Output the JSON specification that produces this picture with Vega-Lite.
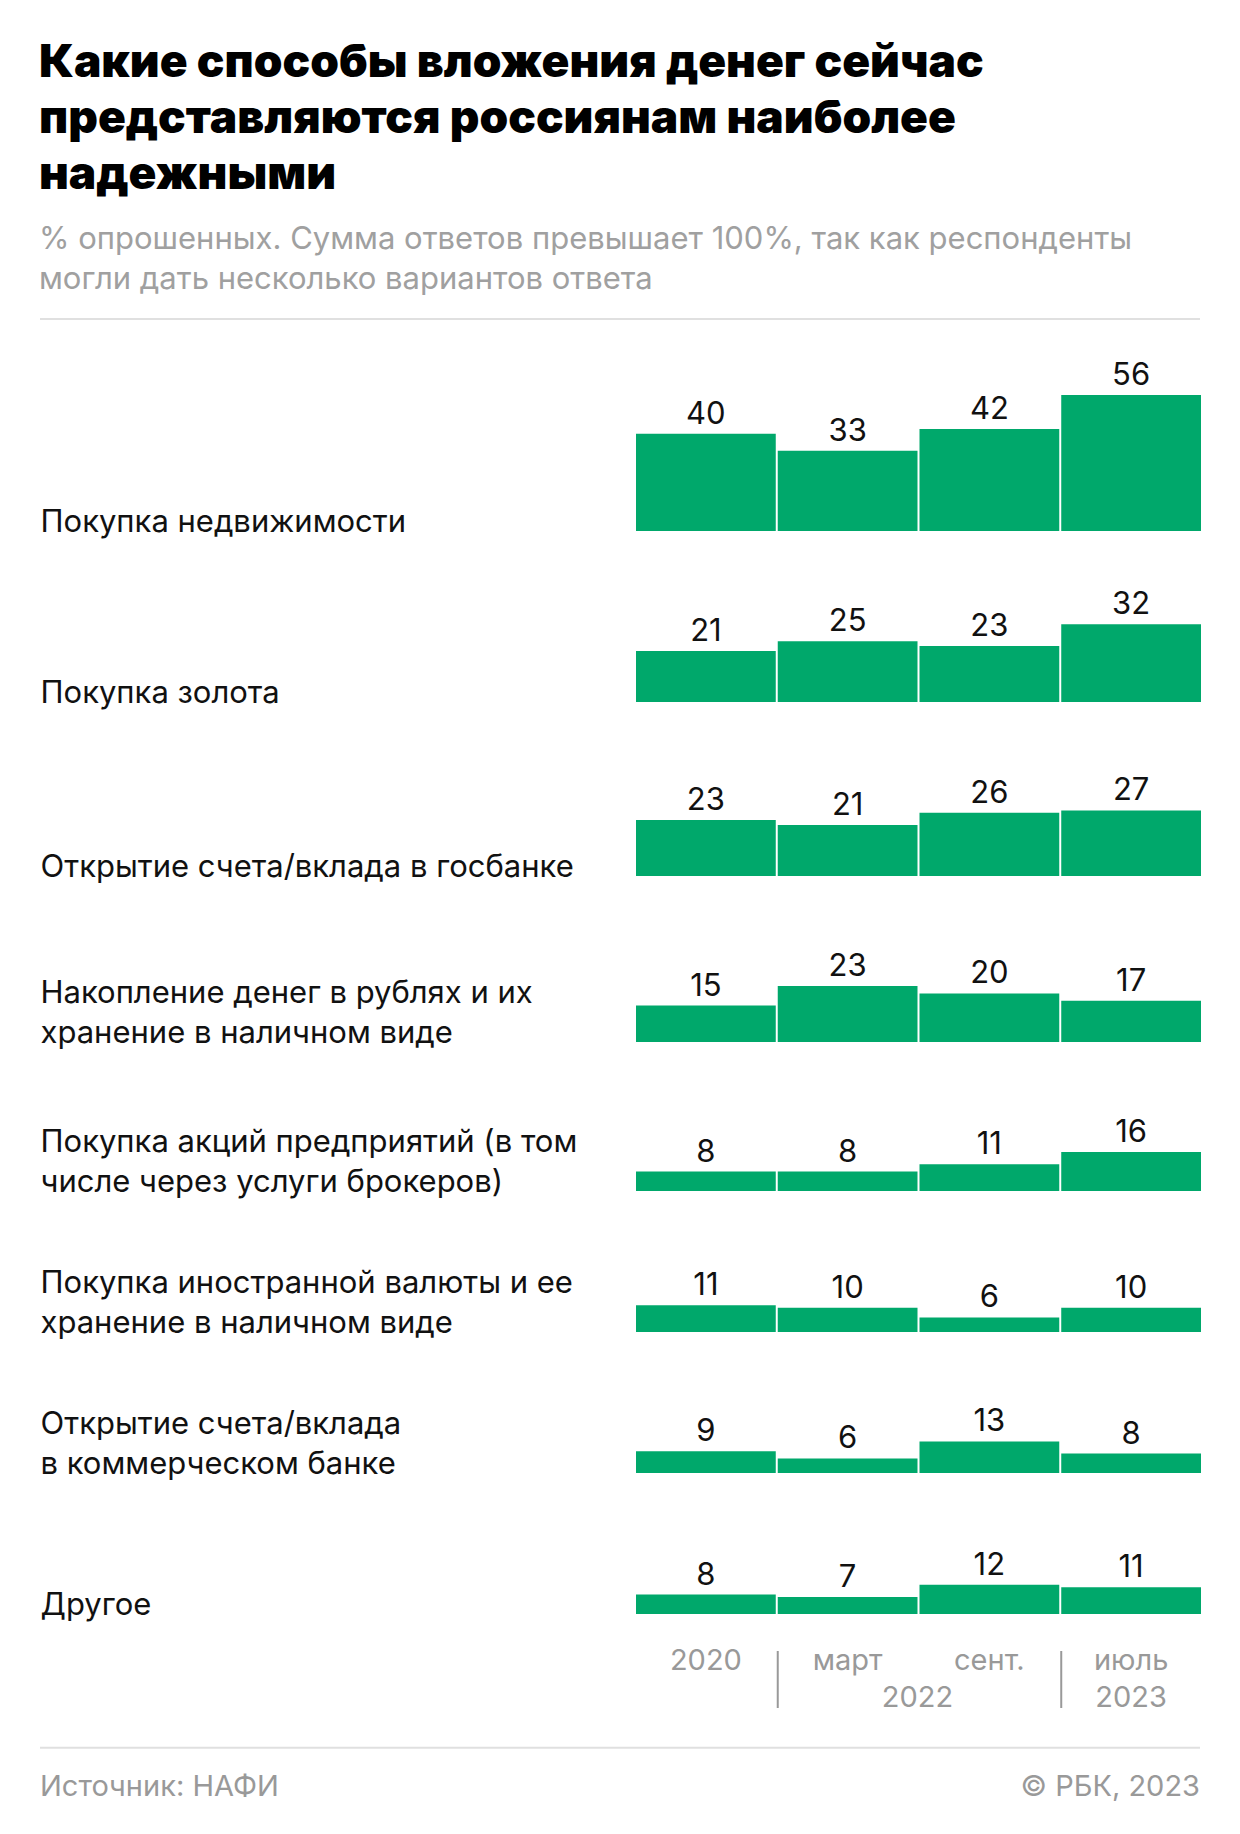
{
  "$schema": "https://vega.github.io/schema/vega-lite/v6.json",
  "background": "white",
  "padding": {"left": 39, "right": 41, "top": 40, "bottom": 0},
  "bounds": "flush",
  "title": {
    "text": ["Какие способы вложения денег сейчас", "представляются россиянам наиболее", "надежными"],
    "subtitle": ["% опрошенных. Сумма ответов превышает 100%, так как респонденты", "могли дать несколько вариантов ответа"],
    "anchor": "start",
    "font": "Inter",
    "fontSize": 46,
    "fontWeight": 900,
    "lineHeight": 56,
    "color": "#000000",
    "subtitleFont": "Inter",
    "subtitleFontSize": 31,
    "subtitleColor": "#a0a0a0",
    "subtitleLineHeight": 40,
    "subtitlePadding": 26,
    "offset": 22
  },
  "config": {
    "view": {"stroke": null},
    "concat": {"spacing": 0},
    "text": {"font": "Inter"},
    "axis": {"titleFont": "Inter", "labelFont": "Inter"}
  },
  "data": {
    "values": [
      {"category": "Покупка недвижимости", "period": "2020", "value": 40},
      {"category": "Покупка недвижимости", "period": "март 2022", "value": 33},
      {"category": "Покупка недвижимости", "period": "сент. 2022", "value": 42},
      {"category": "Покупка недвижимости", "period": "июль 2023", "value": 56},
      {"category": "Покупка золота", "period": "2020", "value": 21},
      {"category": "Покупка золота", "period": "март 2022", "value": 25},
      {"category": "Покупка золота", "period": "сент. 2022", "value": 23},
      {"category": "Покупка золота", "period": "июль 2023", "value": 32},
      {"category": "Открытие счета/вклада в госбанке", "period": "2020", "value": 23},
      {"category": "Открытие счета/вклада в госбанке", "period": "март 2022", "value": 21},
      {"category": "Открытие счета/вклада в госбанке", "period": "сент. 2022", "value": 26},
      {"category": "Открытие счета/вклада в госбанке", "period": "июль 2023", "value": 27},
      {"category": "Накопление денег в рублях", "period": "2020", "value": 15},
      {"category": "Накопление денег в рублях", "period": "март 2022", "value": 23},
      {"category": "Накопление денег в рублях", "period": "сент. 2022", "value": 20},
      {"category": "Накопление денег в рублях", "period": "июль 2023", "value": 17},
      {"category": "Покупка акций", "period": "2020", "value": 8},
      {"category": "Покупка акций", "period": "март 2022", "value": 8},
      {"category": "Покупка акций", "period": "сент. 2022", "value": 11},
      {"category": "Покупка акций", "period": "июль 2023", "value": 16},
      {"category": "Покупка иностранной валюты", "period": "2020", "value": 11},
      {"category": "Покупка иностранной валюты", "period": "март 2022", "value": 10},
      {"category": "Покупка иностранной валюты", "period": "сент. 2022", "value": 6},
      {"category": "Покупка иностранной валюты", "period": "июль 2023", "value": 10},
      {"category": "Коммерческий банк", "period": "2020", "value": 9},
      {"category": "Коммерческий банк", "period": "март 2022", "value": 6},
      {"category": "Коммерческий банк", "period": "сент. 2022", "value": 13},
      {"category": "Коммерческий банк", "period": "июль 2023", "value": 8},
      {"category": "Другое", "period": "2020", "value": 8},
      {"category": "Другое", "period": "март 2022", "value": 7},
      {"category": "Другое", "period": "сент. 2022", "value": 12},
      {"category": "Другое", "period": "июль 2023", "value": 11}
    ]
  },
  "vconcat": [
    {
      "width": 1160,
      "height": 2,
      "data": {"values": [{"line": "top"}]},
      "mark": {"type": "rule", "color": "#e0e0e0", "strokeWidth": 2},
      "encoding": {"y": {"field": "line", "type": "nominal", "axis": null}}
    },
    {
      "width": 1160,
      "height": 211,
      "transform": [{"filter": "datum.category == 'Покупка недвижимости'"}],
      "encoding": {
        "x": {"field": "period", "type": "nominal", "sort": null, "axis": null,
              "scale": {"type": "band", "domain": ["2020", "март 2022", "сент. 2022", "июль 2023"], "range": [596, 1161], "paddingInner": 0.014, "paddingOuter": 0}},
        "y": {"field": "value", "type": "quantitative",
              "scale": {"domain": [0, 86.83], "nice": false, "zero": false},
              "axis": {"title": ["Покупка недвижимости"], "titleAngle": 0, "titleAlign": "left", "titleBaseline": "alphabetic", "titleX": 0, "titleY": 211,
                       "titleFontSize": 31, "titleFontWeight": "normal", "titleColor": "#111111", "titleLineHeight": 40,
                       "labels": false, "ticks": false, "domain": false, "grid": false}}
      },
      "layer": [
        {"mark": {"type": "bar", "color": "#00a86b"}},
        {"mark": {"type": "text", "baseline": "alphabetic", "dy": -10, "fontSize": 31, "color": "#111111"},
         "encoding": {"text": {"field": "value", "type": "quantitative"}}}
      ]
    },
    {
      "width": 1160,
      "height": 171,
      "transform": [{"filter": "datum.category == 'Покупка золота'"}],
      "encoding": {
        "x": {"field": "period", "type": "nominal", "sort": null, "axis": null,
              "scale": {"type": "band", "domain": ["2020", "март 2022", "сент. 2022", "июль 2023"], "range": [596, 1161], "paddingInner": 0.014, "paddingOuter": 0}},
        "y": {"field": "value", "type": "quantitative",
              "scale": {"domain": [0, 70.37], "nice": false, "zero": false},
              "axis": {"title": ["Покупка золота"], "titleAngle": 0, "titleAlign": "left", "titleBaseline": "alphabetic", "titleX": 0, "titleY": 171,
                       "titleFontSize": 31, "titleFontWeight": "normal", "titleColor": "#111111", "titleLineHeight": 40,
                       "labels": false, "ticks": false, "domain": false, "grid": false}}
      },
      "layer": [
        {"mark": {"type": "bar", "color": "#00a86b"}},
        {"mark": {"type": "text", "baseline": "alphabetic", "dy": -10, "fontSize": 31, "color": "#111111"},
         "encoding": {"text": {"field": "value", "type": "quantitative"}}}
      ]
    },
    {
      "width": 1160,
      "height": 174,
      "transform": [{"filter": "datum.category == 'Открытие счета/вклада в госбанке'"}],
      "encoding": {
        "x": {"field": "period", "type": "nominal", "sort": null, "axis": null,
              "scale": {"type": "band", "domain": ["2020", "март 2022", "сент. 2022", "июль 2023"], "range": [596, 1161], "paddingInner": 0.014, "paddingOuter": 0}},
        "y": {"field": "value", "type": "quantitative",
              "scale": {"domain": [0, 71.6], "nice": false, "zero": false},
              "axis": {"title": ["Открытие счета/вклада в госбанке"], "titleAngle": 0, "titleAlign": "left", "titleBaseline": "alphabetic", "titleX": 0, "titleY": 174,
                       "titleFontSize": 31, "titleFontWeight": "normal", "titleColor": "#111111", "titleLineHeight": 40,
                       "labels": false, "ticks": false, "domain": false, "grid": false}}
      },
      "layer": [
        {"mark": {"type": "bar", "color": "#00a86b"}},
        {"mark": {"type": "text", "baseline": "alphabetic", "dy": -10, "fontSize": 31, "color": "#111111"},
         "encoding": {"text": {"field": "value", "type": "quantitative"}}}
      ]
    },
    {
      "width": 1160,
      "height": 166,
      "transform": [{"filter": "datum.category == 'Накопление денег в рублях'"}],
      "encoding": {
        "x": {"field": "period", "type": "nominal", "sort": null, "axis": null,
              "scale": {"type": "band", "domain": ["2020", "март 2022", "сент. 2022", "июль 2023"], "range": [596, 1161], "paddingInner": 0.014, "paddingOuter": 0}},
        "y": {"field": "value", "type": "quantitative",
              "scale": {"domain": [0, 68.31], "nice": false, "zero": false},
              "axis": {"title": ["Накопление денег в рублях и их", "хранение в наличном виде"], "titleAngle": 0, "titleAlign": "left", "titleBaseline": "alphabetic", "titleX": 0, "titleY": 126,
                       "titleFontSize": 31, "titleFontWeight": "normal", "titleColor": "#111111", "titleLineHeight": 40,
                       "labels": false, "ticks": false, "domain": false, "grid": false}}
      },
      "layer": [
        {"mark": {"type": "bar", "color": "#00a86b"}},
        {"mark": {"type": "text", "baseline": "alphabetic", "dy": -10, "fontSize": 31, "color": "#111111"},
         "encoding": {"text": {"field": "value", "type": "quantitative"}}}
      ]
    },
    {
      "width": 1160,
      "height": 149,
      "transform": [{"filter": "datum.category == 'Покупка акций'"}],
      "encoding": {
        "x": {"field": "period", "type": "nominal", "sort": null, "axis": null,
              "scale": {"type": "band", "domain": ["2020", "март 2022", "сент. 2022", "июль 2023"], "range": [596, 1161], "paddingInner": 0.014, "paddingOuter": 0}},
        "y": {"field": "value", "type": "quantitative",
              "scale": {"domain": [0, 61.32], "nice": false, "zero": false},
              "axis": {"title": ["Покупка акций предприятий (в том", "числе через услуги брокеров)"], "titleAngle": 0, "titleAlign": "left", "titleBaseline": "alphabetic", "titleX": 0, "titleY": 109,
                       "titleFontSize": 31, "titleFontWeight": "normal", "titleColor": "#111111", "titleLineHeight": 40,
                       "labels": false, "ticks": false, "domain": false, "grid": false}}
      },
      "layer": [
        {"mark": {"type": "bar", "color": "#00a86b"}},
        {"mark": {"type": "text", "baseline": "alphabetic", "dy": -10, "fontSize": 31, "color": "#111111"},
         "encoding": {"text": {"field": "value", "type": "quantitative"}}}
      ]
    },
    {
      "width": 1160,
      "height": 141,
      "transform": [{"filter": "datum.category == 'Покупка иностранной валюты'"}],
      "encoding": {
        "x": {"field": "period", "type": "nominal", "sort": null, "axis": null,
              "scale": {"type": "band", "domain": ["2020", "март 2022", "сент. 2022", "июль 2023"], "range": [596, 1161], "paddingInner": 0.014, "paddingOuter": 0}},
        "y": {"field": "value", "type": "quantitative",
              "scale": {"domain": [0, 58.02], "nice": false, "zero": false},
              "axis": {"title": ["Покупка иностранной валюты и ее", "хранение в наличном виде"], "titleAngle": 0, "titleAlign": "left", "titleBaseline": "alphabetic", "titleX": 0, "titleY": 101,
                       "titleFontSize": 31, "titleFontWeight": "normal", "titleColor": "#111111", "titleLineHeight": 40,
                       "labels": false, "ticks": false, "domain": false, "grid": false}}
      },
      "layer": [
        {"mark": {"type": "bar", "color": "#00a86b"}},
        {"mark": {"type": "text", "baseline": "alphabetic", "dy": -10, "fontSize": 31, "color": "#111111"},
         "encoding": {"text": {"field": "value", "type": "quantitative"}}}
      ]
    },
    {
      "width": 1160,
      "height": 141,
      "transform": [{"filter": "datum.category == 'Коммерческий банк'"}],
      "encoding": {
        "x": {"field": "period", "type": "nominal", "sort": null, "axis": null,
              "scale": {"type": "band", "domain": ["2020", "март 2022", "сент. 2022", "июль 2023"], "range": [596, 1161], "paddingInner": 0.014, "paddingOuter": 0}},
        "y": {"field": "value", "type": "quantitative",
              "scale": {"domain": [0, 58.02], "nice": false, "zero": false},
              "axis": {"title": ["Открытие счета/вклада", "в коммерческом банке"], "titleAngle": 0, "titleAlign": "left", "titleBaseline": "alphabetic", "titleX": 0, "titleY": 101,
                       "titleFontSize": 31, "titleFontWeight": "normal", "titleColor": "#111111", "titleLineHeight": 40,
                       "labels": false, "ticks": false, "domain": false, "grid": false}}
      },
      "layer": [
        {"mark": {"type": "bar", "color": "#00a86b"}},
        {"mark": {"type": "text", "baseline": "alphabetic", "dy": -10, "fontSize": 31, "color": "#111111"},
         "encoding": {"text": {"field": "value", "type": "quantitative"}}}
      ]
    },
    {
      "width": 1160,
      "height": 178,
      "transform": [{"filter": "datum.category == 'Другое'"}],
      "encoding": {
        "x": {"field": "period", "type": "nominal", "sort": null, "axis": null,
              "scale": {"type": "band", "domain": ["2020", "март 2022", "сент. 2022", "июль 2023"], "range": [596, 1161], "paddingInner": 0.014, "paddingOuter": 0}},
        "y": {"field": "value", "type": "quantitative",
              "scale": {"domain": [-15.23, 58.02], "nice": false, "zero": false},
              "axis": {"title": ["Другое"], "titleAngle": 0, "titleAlign": "left", "titleBaseline": "alphabetic", "titleX": 0, "titleY": 141,
                       "titleFontSize": 31, "titleFontWeight": "normal", "titleColor": "#111111", "titleLineHeight": 40,
                       "labels": false, "ticks": false, "domain": false, "grid": false}}
      },
      "layer": [
        {"mark": {"type": "bar", "color": "#00a86b"}},
        {"mark": {"type": "text", "baseline": "alphabetic", "dy": -10, "fontSize": 31, "color": "#111111"},
         "encoding": {"text": {"field": "value", "type": "quantitative"}}}
      ]
    },
    {
      "width": 1160,
      "height": 57,
      "data": {
        "values": [
          {"period": "2020", "label": "2020", "line": "1"},
          {"period": "март 2022", "label": "март", "line": "1"},
          {"period": "сент. 2022", "label": "сент.", "line": "1"},
          {"period": "июль 2023", "label": "июль", "line": "1"},
          {"period": "март 2022", "label": "2022", "line": "2"},
          {"period": "июль 2023", "label": "2023", "line": "2"}
        ]
      },
      "layer": [
        {
          "transform": [{"filter": "datum.label != '2022'"}],
          "mark": {"type": "text", "baseline": "middle", "fontSize": 29, "color": "#999999"},
          "encoding": {
            "x": {"field": "period", "type": "nominal", "axis": null,
                  "scale": {"type": "band", "domain": ["2020", "март 2022", "сент. 2022", "июль 2023"], "range": [596, 1161], "paddingInner": 0.014, "paddingOuter": 0}},
            "y": {"field": "line", "type": "nominal", "axis": null,
                  "scale": {"type": "point", "domain": ["1", "2"], "padding": 0.27}},
            "text": {"field": "label"}
          }
        },
        {
          "transform": [{"filter": "datum.label == '2022'"}],
          "mark": {"type": "text", "baseline": "middle", "fontSize": 29, "color": "#999999"},
          "encoding": {
            "x": {"field": "period", "type": "nominal", "axis": null, "bandPosition": 1,
                  "scale": {"type": "band", "domain": ["2020", "март 2022", "сент. 2022", "июль 2023"], "range": [596, 1161], "paddingInner": 0.014, "paddingOuter": 0}},
            "y": {"field": "line", "type": "nominal", "axis": null,
                  "scale": {"type": "point", "domain": ["1", "2"], "padding": 0.27}},
            "text": {"field": "label"}
          }
        },
        {
          "transform": [{"filter": "datum.line == '1' && (datum.label == 'март' || datum.label == 'июль')"}],
          "mark": {"type": "rule", "color": "#999999", "strokeWidth": 2},
          "encoding": {
            "x": {"field": "period", "type": "nominal", "axis": null, "bandPosition": 0,
                  "scale": {"type": "band", "domain": ["2020", "март 2022", "сент. 2022", "июль 2023"], "range": [596, 1161], "paddingInner": 0.014, "paddingOuter": 0}}
          }
        }
      ]
    },
    {
      "width": 1160,
      "height": 119,
      "data": {
        "values": [
          {"row": "sep", "side": "left", "text": ""},
          {"row": "src", "side": "left", "text": "Источник: НАФИ"},
          {"row": "src", "side": "right", "text": "© РБК, 2023"}
        ]
      },
      "encoding": {
        "y": {"field": "row", "type": "nominal", "axis": null,
              "scale": {"type": "point", "domain": ["sep", "src"], "padding": 1.108}}
      },
      "layer": [
        {
          "transform": [{"filter": "datum.row == 'sep'"}],
          "mark": {"type": "rule", "color": "#e0e0e0", "strokeWidth": 2}
        },
        {
          "transform": [{"filter": "datum.row == 'src' && datum.side == 'left'"}],
          "mark": {"type": "text", "align": "left", "baseline": "middle", "fontSize": 29, "color": "#999999"},
          "encoding": {
            "x": {"field": "side", "type": "nominal", "axis": null,
                  "scale": {"type": "point", "domain": ["left", "right"], "padding": 0}},
            "text": {"field": "text"}
          }
        },
        {
          "transform": [{"filter": "datum.row == 'src' && datum.side == 'right'"}],
          "mark": {"type": "text", "align": "right", "baseline": "middle", "fontSize": 29, "color": "#999999"},
          "encoding": {
            "x": {"field": "side", "type": "nominal", "axis": null,
                  "scale": {"type": "point", "domain": ["left", "right"], "padding": 0}},
            "text": {"field": "text"}
          }
        }
      ]
    }
  ]
}
